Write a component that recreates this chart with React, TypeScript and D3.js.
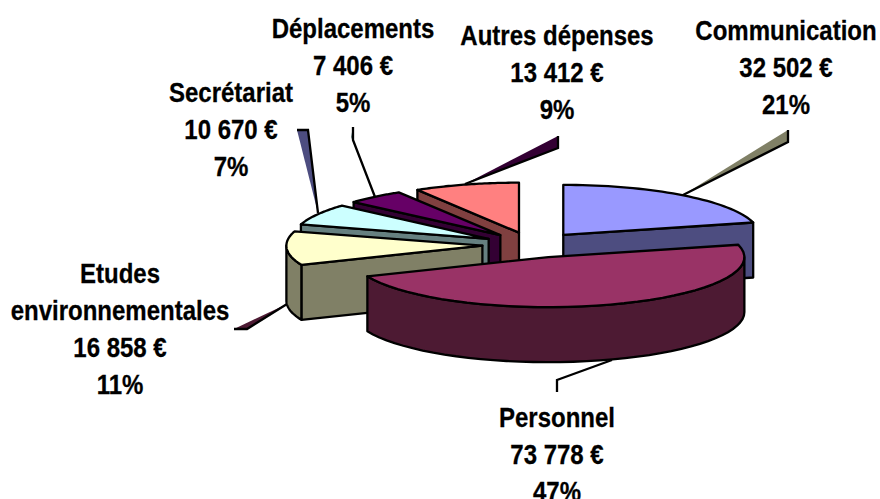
import React, { useEffect, useRef } from 'react';
import * as d3 from 'd3';

const categories = ['Communication', 'Personnel', 'Etudes environnementales', 'Secrétariat', 'Déplacements', 'Autres dépenses'];
const values = [32502, 73778, 16858, 10670, 7406, 13412];
const percents = [21, 47, 11, 7, 5, 9];
const topColors = ['#9999FF', '#993366', '#FFFFCC', '#CCFFFF', '#660066', '#FF8080'];
const sideColors = ['#4D4D80', '#4D1A33', '#808066', '#668080', '#330033', '#804040'];

// back to front, the front slices hide the walls of the ones behind
const drawOrder = [0, 5, 4, 3, 2, 1];

const width = 880;
const height = 499;
const cx = 532.5;
const cy = 245;
const rx = 196;
const ry = 50;
const depth = 55;
const explode = 0.256;

// label centre and first baseline, same order as categories
const labelPos: [number, number][] = [
  [786, 40], [557, 427], [120, 283], [231, 102], [353, 37.5], [557, 45],
];
// leader lines: wedge is the shaded side, line the black edge
const leaders = [
  { color: sideColors[2], wedge: [[683, 195], [788, 142], [788, 130]], line: [[683, 195], [788, 142], [788, 130]] },
  { color: sideColors[4], wedge: [[465, 184], [558, 148], [558, 136]], line: [[465, 184], [558, 148], [558, 136]] },
  { color: sideColors[3], wedge: [[375, 197], [353, 140], [353, 127], [351, 137]], line: [[375, 197], [353, 140], [353, 127]] },
  { color: sideColors[0], wedge: [[318, 213], [308, 130], [297, 130]], line: [[318, 213], [308, 130], [297, 130]] },
  { color: sideColors[1], wedge: [[287, 304], [247, 329], [234, 329]], line: [[287, 304], [247, 329], [234, 329]] },
  { color: 'none', wedge: [], line: [[612, 360], [557, 380], [557, 392]] },
];

const euro = d3.formatLocale({ decimal: ',', thousands: ' ', grouping: [3], currency: ['', ' €'] }).format('$,');

export default function App() {
  const ref = useRef<SVGSVGElement>(null);

  useEffect(() => {
    const svg = d3.select(ref.current);
    svg.selectAll('*').remove();

    const arcs = d3.pie<number>().sort(null).value(d => d)(values);
    const line = d3.line();

    const drawPoly = (pts: number[][], fill: string) =>
      svg.append('path')
        .attr('d', line(pts as [number, number][]) + 'Z')
        .attr('fill', fill)
        .attr('stroke', '#000')
        .attr('stroke-width', 2.3)
        .attr('stroke-linejoin', 'round');

    // leaders sit under the slices
    leaders.forEach(l => {
      if (l.wedge.length) {
        svg.append('path')
          .attr('d', line(l.wedge as [number, number][]) + 'Z')
          .attr('fill', l.color);
      }
      svg.append('path')
        .attr('d', line(l.line as [number, number][]))
        .attr('fill', 'none')
        .attr('stroke', '#000')
        .attr('stroke-width', 2.3);
    });

    drawOrder.forEach(i => {
      const a = arcs[i].startAngle;
      const b = arcs[i].endAngle;
      const mid = (a + b) / 2;
      const ox = cx + explode * rx * Math.sin(mid);
      const oy = cy - explode * ry * Math.cos(mid);
      const pt = (t: number): number[] => [ox + rx * Math.sin(t), oy - ry * Math.cos(t)];
      const sample = (from: number, to: number) =>
        d3.range(0, 41).map(k => pt(from + (to - from) * k / 40));
      const down = (p: number[]) => [p[0], p[1] + depth];

      // radial walls, only the ones that face the viewer
      if (Math.sin(a) < -1e-6) drawPoly([[ox, oy], pt(a), down(pt(a)), [ox, oy + depth]], sideColors[i]);
      if (Math.sin(b) > 1e-6) drawPoly([[ox, oy], pt(b), down(pt(b)), [ox, oy + depth]], sideColors[i]);

      // outer rim, front half of the ellipse
      const from = Math.max(a, Math.PI / 2);
      const to = Math.min(b, Math.PI * 1.5);
      if (to > from) {
        const rim = sample(from, to);
        drawPoly([...rim, ...rim.map(down).reverse()], sideColors[i]);
      }

      // top face
      drawPoly([[ox, oy], ...sample(a, b)], topColors[i]);
    });

    // labels, the original text is a little stretched vertically
    // (the last line of Personnel runs off the bottom in the original too)
    const lineHeight = 37.1;
    categories.forEach((c, i) => {
      const name = c === 'Etudes environnementales' ? c.split(' ') : [c];
      const rows = [...name, euro(values[i]), `${percents[i]}%`];
      rows.forEach((r, k) => {
        svg.append('text')
          .attr('transform', `translate(${labelPos[i][0]},${labelPos[i][1] + k * lineHeight}) scale(1,1.17)`)
          .attr('text-anchor', 'middle')
          .attr('font-family', '"Liberation Sans", Arial, sans-serif')
          .attr('font-weight', 'bold')
          .attr('font-size', 24)
          .attr('fill', '#000')
          .attr('stroke', '#000')
          .attr('stroke-width', 0.25)
          .text(r);
      });
    });
  }, []);

  return (
    <svg
      ref={ref}
      width={width}
      height={height}
      viewBox={`0 0 ${width} ${height}`}
      style={{ position: 'absolute', left: 0, top: 0, background: '#fff' }}
    />
  );
}
